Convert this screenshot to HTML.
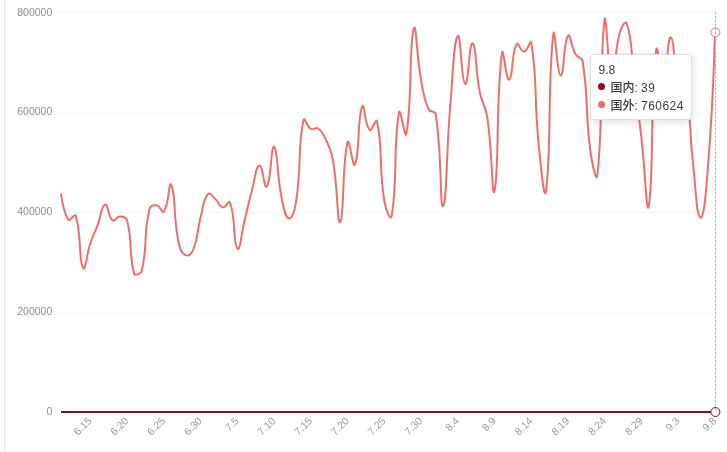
<!DOCTYPE html>
<html lang="zh-CN">
<head>
<meta charset="utf-8">
<title>国内 / 国外</title>
<style>
html,body{margin:0;padding:0;background:#fff;}
body{width:727px;height:452px;overflow:hidden;position:relative;font-family:"Liberation Sans","Noto Sans CJK SC",sans-serif;}
#chart{position:absolute;left:0;top:0;width:727px;height:452px;}
#chart text{font-family:"Liberation Sans","Noto Sans CJK SC",sans-serif;}
.leftbar{position:absolute;left:4px;top:0;width:1px;height:452px;background:#e9e9e9;}
.tip{position:absolute;left:590px;top:54px;width:99.5px;height:63.5px;background:#fff;border:1px solid #dedede;border-radius:3px;box-shadow:1px 2px 8px rgba(0,0,0,.13);}
.tt{position:absolute;color:#3c3c3c;font-size:12px;line-height:16px;white-space:nowrap;}
.cj{font-weight:500;}
.num{letter-spacing:.45px;}
.dot{position:absolute;width:7px;height:7px;border-radius:50%;}
</style>
</head>
<body>
<div class="leftbar"></div>
<svg id="chart" width="727" height="452" viewBox="0 0 727 452">

<g stroke="#f7f7f7" stroke-width="1">
<line x1="56" y1="12.5" x2="715.5" y2="12.5"/>
<line x1="56" y1="112.7" x2="715.5" y2="112.7"/>
<line x1="56" y1="212.4" x2="715.5" y2="212.4"/>
<line x1="56" y1="312.3" x2="715.5" y2="312.3"/>
</g>
<g fill="#8e8e8e" font-size="10.5" text-anchor="end">
<text x="52.3" y="15.9">800000</text>
<text x="52.3" y="114.9">600000</text>
<text x="52.3" y="214.9">400000</text>
<text x="52.3" y="314.9">200000</text>
<text x="52.3" y="414.8">0</text>
</g>
<g fill="#9a9a9a" font-size="10.5" text-anchor="end">
<text transform="translate(92.49,421.50) rotate(-45)" x="0" y="0">6.15</text>
<text transform="translate(129.23,421.50) rotate(-45)" x="0" y="0">6.20</text>
<text transform="translate(165.98,421.50) rotate(-45)" x="0" y="0">6.25</text>
<text transform="translate(202.72,421.50) rotate(-45)" x="0" y="0">6.30</text>
<text transform="translate(239.46,421.50) rotate(-45)" x="0" y="0">7.5</text>
<text transform="translate(276.20,421.50) rotate(-45)" x="0" y="0">7.10</text>
<text transform="translate(312.94,421.50) rotate(-45)" x="0" y="0">7.15</text>
<text transform="translate(349.68,421.50) rotate(-45)" x="0" y="0">7.20</text>
<text transform="translate(386.43,421.50) rotate(-45)" x="0" y="0">7.25</text>
<text transform="translate(423.17,421.50) rotate(-45)" x="0" y="0">7.30</text>
<text transform="translate(459.91,421.50) rotate(-45)" x="0" y="0">8.4</text>
<text transform="translate(496.65,421.50) rotate(-45)" x="0" y="0">8.9</text>
<text transform="translate(533.39,421.50) rotate(-45)" x="0" y="0">8.14</text>
<text transform="translate(570.13,421.50) rotate(-45)" x="0" y="0">8.19</text>
<text transform="translate(606.88,421.50) rotate(-45)" x="0" y="0">8.24</text>
<text transform="translate(643.62,421.50) rotate(-45)" x="0" y="0">8.29</text>
<text transform="translate(680.36,421.50) rotate(-45)" x="0" y="0">9.3</text>
<text transform="translate(717.10,421.50) rotate(-45)" x="0" y="0">9.8</text>
</g>
<path d="M61.00 193.30C61.00 193.30 62.72 210.97 68.35 219.55C70.06 222.16 74.69 212.40 75.70 215.68C82.04 236.50 78.10 258.47 83.04 267.76C85.45 272.27 86.26 255.37 90.39 243.30C93.61 233.89 94.22 234.11 97.74 224.80C101.57 214.68 101.03 205.69 105.09 204.45C108.37 203.45 107.45 216.22 112.44 220.31C114.80 222.25 116.16 216.38 119.79 216.50C123.51 216.62 126.14 216.86 127.13 220.80C133.49 246.01 128.13 253.31 134.48 274.80C135.48 274.80 140.93 274.47 141.83 270.50C148.28 242.02 142.75 238.45 149.18 209.90C150.09 205.84 153.04 204.90 156.53 205.28C160.39 205.69 161.98 214.13 163.88 211.49C169.33 203.88 168.85 179.77 171.22 184.77C176.20 195.28 172.70 214.38 178.57 242.50C180.05 249.57 181.42 253.02 185.92 255.16C188.77 256.52 191.66 253.65 193.27 249.50C199.01 234.72 196.38 233.25 200.62 217.30C203.73 205.60 202.57 200.93 207.97 194.21C209.92 191.78 212.08 196.10 215.31 199.00C219.42 202.67 218.56 206.37 222.66 207.35C225.91 208.13 228.85 199.26 230.01 202.53C236.19 219.87 232.87 243.31 237.36 248.59C240.22 251.95 241.10 234.21 244.71 219.80C248.45 204.87 248.03 204.75 252.06 189.90C255.38 177.66 255.50 166.46 259.40 165.61C262.84 164.86 264.14 190.03 266.75 186.71C271.49 180.68 270.84 144.61 274.10 146.90C278.18 149.76 276.37 172.29 281.45 197.00C283.71 208.01 284.76 217.15 288.80 218.33C292.11 219.30 294.78 210.40 296.15 201.30C302.13 161.32 297.05 151.93 303.49 120.17C304.40 115.73 306.38 126.35 310.84 128.89C313.73 130.52 315.51 126.67 318.19 128.51C322.86 131.72 322.85 133.25 325.54 139.00C330.20 148.99 330.95 149.10 332.89 160.00C338.30 190.55 337.02 225.78 340.24 221.91C344.36 216.94 341.90 164.55 347.58 142.32C349.25 135.83 352.84 169.59 354.93 164.47C360.19 151.64 357.10 118.62 362.28 106.42C364.45 101.31 364.59 124.76 369.63 129.86C371.94 132.20 376.07 116.90 376.98 121.30C383.42 152.48 378.24 161.83 384.33 201.00C385.59 209.13 390.66 222.02 391.67 215.91C398.01 177.81 392.98 146.32 399.02 112.58C400.33 105.27 405.08 141.17 406.37 133.80C412.43 99.28 408.79 46.84 413.72 28.81C416.14 19.94 416.41 54.60 421.07 80.00C423.76 94.69 422.79 95.80 428.42 109.00C430.14 113.05 435.10 110.09 435.76 114.50C442.44 158.59 439.65 208.70 443.11 206.00C447.00 202.95 446.02 154.43 450.46 103.00C453.37 69.38 453.54 41.44 457.81 35.91C460.89 31.92 461.19 81.97 465.16 83.96C468.54 85.65 469.17 41.32 472.51 43.26C476.52 45.59 475.00 68.14 479.85 92.50C482.35 105.01 485.32 104.40 487.20 117.00C492.66 153.48 491.98 201.82 494.55 190.67C499.33 169.94 495.77 99.55 501.90 53.25C503.12 44.03 506.09 81.60 509.25 79.62C513.44 77.01 510.92 54.82 516.60 44.06C518.26 40.90 520.41 52.08 523.94 51.80C527.76 51.50 530.54 38.20 531.29 42.91C537.89 84.30 533.63 93.61 538.64 144.00C540.98 167.53 544.28 203.48 545.99 190.75C551.63 148.59 547.54 79.61 553.34 34.21C554.89 22.03 556.94 75.20 560.69 75.60C564.29 75.98 563.09 43.05 568.03 35.77C570.43 32.25 570.59 45.62 575.38 54.00C577.94 58.48 581.95 56.43 582.73 61.50C589.29 103.93 584.45 105.61 590.08 149.00C591.80 162.29 596.35 184.45 597.43 174.87C603.70 118.90 599.51 51.97 604.78 17.90C606.86 17.90 607.93 75.27 612.12 79.72C615.28 83.07 613.65 55.70 619.47 33.50C621.00 27.69 625.48 19.63 626.82 23.70C632.83 41.88 630.70 50.82 634.17 78.00C638.05 108.47 638.00 108.48 641.52 139.00C645.35 172.20 646.66 218.85 648.87 205.44C654.01 174.15 649.76 109.14 656.21 49.59C657.11 41.36 660.67 72.26 663.56 69.88C668.02 66.22 667.71 35.30 670.91 37.50C675.06 40.36 672.24 60.12 678.26 80.00C679.58 84.37 684.80 81.47 685.61 86.00C692.15 122.97 688.66 124.57 692.96 163.00C696.01 190.37 696.32 215.27 700.30 217.60C703.67 219.57 705.81 194.80 707.65 171.60C713.16 102.04 715.00 32.10 715.00 32.10" fill="none" stroke="#ef6f68" stroke-width="2" stroke-linejoin="round" stroke-linecap="butt"/>
<line x1="61" y1="412" x2="715" y2="412" stroke="#7a1220" stroke-width="2"/>
<circle cx="715.4" cy="412" r="4.5" fill="#fff" stroke="#7a1220" stroke-width="1"/>
<circle cx="715.4" cy="32.3" r="4.5" fill="#fff" stroke="#ef6f68" stroke-width="1"/>
<line x1="715.5" y1="12" x2="715.5" y2="412" stroke="#b4b4b4" stroke-width="1" stroke-dasharray="2.5 1.5"/>
</svg>

<div class="tip"></div>
<div class="tt" style="left:598.6px;top:62.4px">9.8</div>
<div class="dot" style="left:598.3px;top:83.3px;background:#8e0d1c"></div>
<div class="tt cj" style="left:610.4px;top:80px">国内: <span class="num">39</span></div>
<div class="dot" style="left:598.3px;top:101.4px;background:#f26c66"></div>
<div class="tt cj" style="left:610.4px;top:98px">国外: <span class="num">760624</span></div>
</body>
</html>
